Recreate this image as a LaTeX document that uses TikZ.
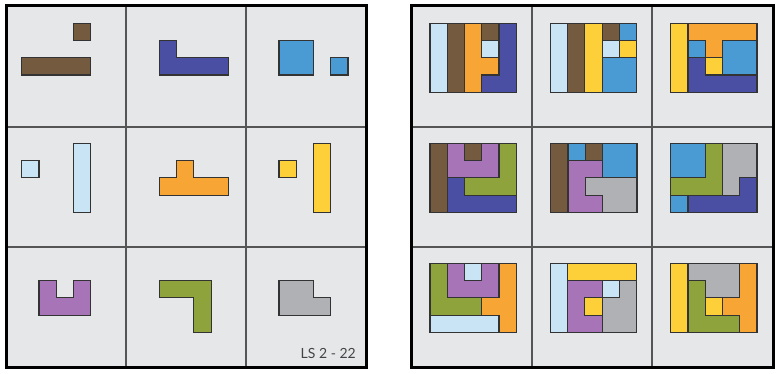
\documentclass[tikz,border=0pt]{standalone}
\usepackage{fontspec}
\setsansfont{Lato}
\definecolor{cellbg}{HTML}{E6E7E9}
\definecolor{divcol}{HTML}{555555}
\definecolor{pline}{HTML}{333333}
\definecolor{pbrown}{HTML}{745A3E}
\definecolor{pindigo}{HTML}{4B4FA3}
\definecolor{pblue}{HTML}{4A9AD4}
\definecolor{plblue}{HTML}{C9E5F5}
\definecolor{porange}{HTML}{F7A535}
\definecolor{pyellow}{HTML}{FDD03A}
\definecolor{ppurple}{HTML}{A874B8}
\definecolor{pgreen}{HTML}{8FA33C}
\definecolor{pgray}{HTML}{B0B1B4}
\definecolor{txtgray}{HTML}{444444}
\tikzset{
  piece/.style={draw=pline, line width=1.1pt, line join=miter},
  divider/.style={draw=divcol, line width=1.4pt},
  frame/.style={draw=black, line width=3pt},
  grid5/.style={x=17.25pt, y=-17.25pt}
}
\begin{document}
\begin{tikzpicture}[x=1pt,y=-1pt]
\useasboundingbox[fill=white] (0,0) rectangle (781,374);
% backgrounds
\fill[cellbg] (6,6) rectangle (366,367);
\fill[cellbg] (411,6) rectangle (773,367);
% dividers
\draw[divider] (126,6) -- (126,367) (246,6) -- (246,367)
  (6,127) -- (366,127) (6,247) -- (366,247);
\draw[divider] (532,6) -- (532,367) (652,6) -- (652,367)
  (411,127) -- (773,127) (411,247) -- (773,247);
% frames
\draw[frame] (6,6) rectangle (366,367);
\draw[frame] (411,6) rectangle (773,367);

% ---------- left panel ----------
\begin{scope}[shift={(21.7pt,-23.3pt)}, grid5]
  \filldraw[piece, fill=pbrown] (3,0) rectangle (4,1);
  \filldraw[piece, fill=pbrown] (0,2) rectangle (4,3);
\end{scope}
\begin{scope}[shift={(159.3pt,-23.3pt)}, grid5]
  \filldraw[piece, fill=pindigo] (0,1) -- (1,1) -- (1,2) -- (4,2) -- (4,3) -- (0,3) -- cycle;
\end{scope}
\begin{scope}[shift={(279pt,-23.3pt)}, grid5]
  \filldraw[piece, fill=pblue] (0,1) rectangle (2,3);
  \filldraw[piece, fill=pblue] (3,2) rectangle (4,3);
\end{scope}
\begin{scope}[shift={(21.7pt,-143.3pt)}, grid5]
  \filldraw[piece, fill=plblue] (0,1) rectangle (1,2);
  \filldraw[piece, fill=plblue] (3,0) rectangle (4,4);
\end{scope}
\begin{scope}[shift={(159.3pt,-143.3pt)}, grid5]
  \filldraw[piece, fill=porange] (1,1) -- (2,1) -- (2,2) -- (4,2) -- (4,3) -- (0,3) -- (0,2) -- (1,2) -- cycle;
\end{scope}
\begin{scope}[shift={(279pt,-143.3pt)}, grid5]
  \filldraw[piece, fill=pyellow] (0,1) rectangle (1,2);
  \filldraw[piece, fill=pyellow] (2,0) rectangle (3,4);
\end{scope}
\begin{scope}[shift={(21.7pt,-263.3pt)}, grid5]
  \filldraw[piece, fill=ppurple] (1,1) -- (2,1) -- (2,2) -- (3,2) -- (3,1) -- (4,1) -- (4,3) -- (1,3) -- cycle;
\end{scope}
\begin{scope}[shift={(159.3pt,-263.3pt)}, grid5]
  \filldraw[piece, fill=pgreen] (0,1) -- (3,1) -- (3,4) -- (2,4) -- (2,2) -- (0,2) -- cycle;
\end{scope}
\begin{scope}[shift={(279pt,-263.3pt)}, grid5]
  \filldraw[piece, fill=pgray] (0,1) -- (2,1) -- (2,2) -- (3,2) -- (3,3) -- (0,3) -- cycle;
\end{scope}
\node[anchor=base east, text=txtgray, font=\sffamily\fontsize{14}{14}\selectfont, inner sep=0pt] (lbl) at (356,358.3) {LS 2 - 22};

% ---------- right panel ----------
% R11
\begin{scope}[shift={(430pt,-23.3pt)}, grid5]
  \filldraw[piece, fill=plblue] (0,0) rectangle (1,4);
  \filldraw[piece, fill=pbrown] (1,0) rectangle (2,4);
  \filldraw[piece, fill=porange] (2,0) -- (3,0) -- (3,2) -- (4,2) -- (4,3) -- (3,3) -- (3,4) -- (2,4) -- cycle;
  \filldraw[piece, fill=pbrown] (3,0) rectangle (4,1);
  \filldraw[piece, fill=plblue] (3,1) rectangle (4,2);
  \filldraw[piece, fill=pindigo] (4,0) -- (5,0) -- (5,4) -- (3,4) -- (3,3) -- (4,3) -- cycle;
\end{scope}
% R12
\begin{scope}[shift={(550.3pt,-23.3pt)}, grid5]
  \filldraw[piece, fill=plblue] (0,0) rectangle (1,4);
  \filldraw[piece, fill=pbrown] (1,0) rectangle (2,4);
  \filldraw[piece, fill=pyellow] (2,0) rectangle (3,4);
  \filldraw[piece, fill=pbrown] (3,0) rectangle (4,1);
  \filldraw[piece, fill=pblue] (4,0) rectangle (5,1);
  \filldraw[piece, fill=plblue] (3,1) rectangle (4,2);
  \filldraw[piece, fill=pyellow] (4,1) rectangle (5,2);
  \filldraw[piece, fill=pblue] (3,2) rectangle (5,4);
\end{scope}
% R13
\begin{scope}[shift={(670.7pt,-23.3pt)}, grid5]
  \filldraw[piece, fill=pyellow] (0,0) rectangle (1,4);
  \filldraw[piece, fill=porange] (1,0) -- (5,0) -- (5,1) -- (3,1) -- (3,2) -- (2,2) -- (2,1) -- (1,1) -- cycle;
  \filldraw[piece, fill=pblue] (1,1) rectangle (2,2);
  \filldraw[piece, fill=pblue] (3,1) rectangle (5,3);
  \filldraw[piece, fill=pyellow] (2,2) rectangle (3,3);
  \filldraw[piece, fill=pindigo] (1,2) -- (2,2) -- (2,3) -- (5,3) -- (5,4) -- (1,4) -- cycle;
\end{scope}
% R21
\begin{scope}[shift={(430pt,-143.3pt)}, grid5]
  \filldraw[piece, fill=pbrown] (0,0) rectangle (1,4);
  \filldraw[piece, fill=ppurple] (1,0) -- (2,0) -- (2,1) -- (3,1) -- (3,0) -- (4,0) -- (4,2) -- (1,2) -- cycle;
  \filldraw[piece, fill=pbrown] (2,0) rectangle (3,1);
  \filldraw[piece, fill=pgreen] (4,0) -- (5,0) -- (5,3) -- (2,3) -- (2,2) -- (4,2) -- cycle;
  \filldraw[piece, fill=pindigo] (1,2) -- (2,2) -- (2,3) -- (5,3) -- (5,4) -- (1,4) -- cycle;
\end{scope}
% R22
\begin{scope}[shift={(550.7pt,-143.3pt)}, grid5]
  \filldraw[piece, fill=pbrown] (0,0) rectangle (1,4);
  \filldraw[piece, fill=pblue] (1,0) rectangle (2,1);
  \filldraw[piece, fill=pbrown] (2,0) rectangle (3,1);
  \filldraw[piece, fill=pblue] (3,0) rectangle (5,2);
  \filldraw[piece, fill=ppurple] (1,1) -- (3,1) -- (3,2) -- (2,2) -- (2,3) -- (3,3) -- (3,4) -- (1,4) -- cycle;
  \filldraw[piece, fill=pgray] (2,2) -- (5,2) -- (5,4) -- (3,4) -- (3,3) -- (2,3) -- cycle;
\end{scope}
% R23
\begin{scope}[shift={(670.7pt,-143.3pt)}, grid5]
  \filldraw[piece, fill=pblue] (0,0) rectangle (2,2);
  \filldraw[piece, fill=pgreen] (2,0) -- (3,0) -- (3,3) -- (0,3) -- (0,2) -- (2,2) -- cycle;
  \filldraw[piece, fill=pgray] (3,0) -- (5,0) -- (5,2) -- (4,2) -- (4,3) -- (3,3) -- cycle;
  \filldraw[piece, fill=pindigo] (4,2) -- (5,2) -- (5,4) -- (1,4) -- (1,3) -- (4,3) -- cycle;
  \filldraw[piece, fill=pblue] (0,3) rectangle (1,4);
\end{scope}
% R31
\begin{scope}[shift={(430pt,-263.3pt)}, grid5]
  \filldraw[piece, fill=pgreen] (0,0) -- (1,0) -- (1,2) -- (3,2) -- (3,3) -- (0,3) -- cycle;
  \filldraw[piece, fill=ppurple] (1,0) -- (2,0) -- (2,1) -- (3,1) -- (3,0) -- (4,0) -- (4,2) -- (1,2) -- cycle;
  \filldraw[piece, fill=plblue] (2,0) rectangle (3,1);
  \filldraw[piece, fill=porange] (4,0) -- (5,0) -- (5,4) -- (4,4) -- (4,3) -- (3,3) -- (3,2) -- (4,2) -- cycle;
  \filldraw[piece, fill=plblue] (0,3) rectangle (4,4);
\end{scope}
% R32
\begin{scope}[shift={(550.3pt,-263.3pt)}, grid5]
  \filldraw[piece, fill=plblue] (0,0) rectangle (1,4);
  \filldraw[piece, fill=pyellow] (1,0) rectangle (5,1);
  \filldraw[piece, fill=ppurple] (1,1) -- (3,1) -- (3,2) -- (2,2) -- (2,3) -- (3,3) -- (3,4) -- (1,4) -- cycle;
  \filldraw[piece, fill=pyellow] (2,2) rectangle (3,3);
  \filldraw[piece, fill=plblue] (3,1) rectangle (4,2);
  \filldraw[piece, fill=pgray] (4,1) -- (5,1) -- (5,4) -- (3,4) -- (3,2) -- (4,2) -- cycle;
\end{scope}
% R33
\begin{scope}[shift={(670.7pt,-263.3pt)}, grid5]
  \filldraw[piece, fill=pyellow] (0,0) rectangle (1,4);
  \filldraw[piece, fill=pgray] (1,0) -- (4,0) -- (4,2) -- (2,2) -- (2,1) -- (1,1) -- cycle;
  \filldraw[piece, fill=porange] (4,0) -- (5,0) -- (5,4) -- (4,4) -- (4,3) -- (3,3) -- (3,2) -- (4,2) -- cycle;
  \filldraw[piece, fill=pgreen] (1,1) -- (2,1) -- (2,3) -- (4,3) -- (4,4) -- (1,4) -- cycle;
  \filldraw[piece, fill=pyellow] (2,2) rectangle (3,3);
\end{scope}
\end{tikzpicture}
\end{document}
